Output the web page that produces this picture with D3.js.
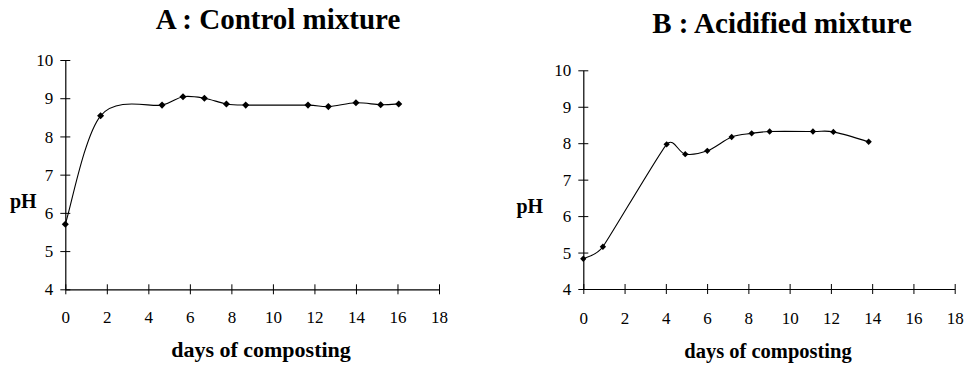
<!DOCTYPE html>
<html>
<head>
<meta charset="utf-8">
<script src="https://cdn.jsdelivr.net/npm/d3@7"></script>
<style>
  html, body { margin: 0; padding: 0; background: #fff; }
  svg { display: block; }
</style>
</head>
<body>
<svg id="chart" width="965" height="367"></svg>
<script>
// ---- data ----
const xTicks = [0, 2, 4, 6, 8, 10, 12, 14, 16, 18];
const yTicks = [4, 5, 6, 7, 8, 9, 10];

const titleA = "A : Control mixture";
const daysA = [0, 1.7, 4.66, 5.67, 6.7, 7.76, 8.69, 11.69, 12.67, 14.0, 15.19, 16.06];
const phA   = [5.7, 8.54, 8.82, 9.04, 9.0, 8.85, 8.82, 8.82, 8.78, 8.88, 8.83, 8.85];

const titleB = "B : Acidified mixture";
const daysB = [0, 0.95, 4.04, 4.94, 6.01, 7.19, 8.16, 9.03, 11.13, 12.12, 13.83];
const phB   = [4.83, 5.16, 7.97, 7.70, 7.79, 8.17, 8.27, 8.32, 8.32, 8.31, 8.04];

const xLabel = "days of composting";
const yLabel = "pH";

const FONT = "Liberation Serif";

// spreadsheet-style smoothed line (Bezier, tangent (P[i+1]-P[i-1])/6, clamped for uneven spacing)
function SmoothCurve(context) { this._context = context; }
SmoothCurve.prototype = {
  areaStart() {}, areaEnd() {},
  lineStart() { this._pts = []; },
  point(x, y) { this._pts.push([+x, +y]); },
  lineEnd() {
    const p = this._pts, n = p.length, c = this._context;
    if (!n) return;
    c.moveTo(p[0][0], p[0][1]);
    if (n === 1) return;
    const tan = i => {
      const a = p[Math.max(0, i - 1)], b = p[i], d = p[Math.min(n - 1, i + 1)];
      const d01 = Math.hypot(b[0] - a[0], b[1] - a[1]);
      const d12 = Math.hypot(d[0] - b[0], d[1] - b[1]);
      const d02 = Math.hypot(d[0] - a[0], d[1] - a[1]);
      let f = 1 / 6;
      const m = Math.min(d01 > 0 ? d01 : Infinity, d12 > 0 ? d12 : Infinity);
      if (d02 > 0 && isFinite(m)) f = Math.min(f, m / (2 * d02));
      return [(d[0] - a[0]) * f, (d[1] - a[1]) * f];
    };
    const t = p.map((_, i) => tan(i));
    for (let i = 0; i < n - 1; i++) {
      c.bezierCurveTo(p[i][0] + t[i][0], p[i][1] + t[i][1],
                      p[i + 1][0] - t[i + 1][0], p[i + 1][1] - t[i + 1][1],
                      p[i + 1][0], p[i + 1][1]);
    }
  }
};
const curveSmooth = ctx => new SmoothCurve(ctx);

const svg = d3.select("#chart");
svg.append("rect").attr("width", 965).attr("height", 367).attr("fill", "#fff");

function panel(cfg) {
  const x = d3.scaleLinear().domain([0, 18]).range([cfg.x0, cfg.x1]);
  const y = d3.scaleLinear().domain([4, 10]).range([cfg.y0, cfg.y1]);
  const g = svg.append("g");

  // title
  g.append("text").attr("x", cfg.titleX).attr("y", cfg.titleY)
    .attr("text-anchor", "middle")
    .style("font-family", FONT).style("font-weight", "bold")
    .style("font-size", cfg.titleSize + "px").text(cfg.title);

  // x axis
  const gx = g.append("g").attr("transform", `translate(0,${cfg.y0})`)
    .call(d3.axisBottom(x).tickValues(xTicks).tickSizeOuter(0).tickSizeInner(5).tickPadding(0).tickFormat(d3.format("d")));
  gx.attr("font-family", null);
  gx.select(".domain").attr("stroke", "#000").attr("stroke-width", 1.2);
  gx.selectAll(".tick line").attr("y1", -5).attr("y2", 5).attr("stroke", "#000");
  gx.selectAll(".tick text")
    .style("font-family", FONT).style("font-size", cfg.tickSize + "px")
    .attr("y", cfg.xLabelDy).attr("dy", 0).attr("fill", "#000");

  // y axis
  const gy = g.append("g").attr("transform", `translate(${cfg.x0},0)`)
    .call(d3.axisLeft(y).tickValues(yTicks).tickSizeOuter(0).tickSizeInner(5).tickPadding(0).tickFormat(d3.format("d")));
  gy.attr("font-family", null);
  gy.select(".domain").attr("stroke", "#000").attr("stroke-width", 1.2);
  gy.selectAll(".tick line").attr("x1", -5).attr("x2", 5).attr("stroke", "#000");
  gy.selectAll(".tick text")
    .style("font-family", FONT).style("font-size", cfg.tickSize + "px")
    .attr("x", -12).attr("dy", "0.33em").attr("fill", "#000");

  // axis titles
  g.append("text").attr("x", cfg.yLabX).attr("y", cfg.yLabY)
    .style("font-family", FONT).style("font-weight", "bold").style("font-size", "20px")
    .text(yLabel);
  g.append("text").attr("x", cfg.xLabX).attr("y", cfg.xLabY).attr("text-anchor", "middle")
    .style("font-family", FONT).style("font-weight", "bold").style("font-size", cfg.xLabSize + "px")
    .text(xLabel);

  const data = cfg.days.map((d, i) => ({ d, v: cfg.ph[i] }));
  const line = d3.line().x(p => x(p.d)).y(p => y(p.v)).curve(curveSmooth);
  g.append("path").datum(data).attr("d", line)
    .attr("fill", "none").attr("stroke", "#000").attr("stroke-width", 1.1);

  const sym = d3.symbol().type(d3.symbolSquare).size(cfg.markSize);
  g.selectAll(".mk").data(data).join("path")
    .attr("d", sym)
    .attr("transform", p => `translate(${x(p.d)},${y(p.v)}) rotate(45)`)
    .attr("fill", "#000");
}

panel({
  title: titleA, days: daysA, ph: phA,
  x0: 65.3, x1: 439, y0: 289.3, y1: 60,
  titleX: 278, titleY: 29, titleSize: 29,
  tickSize: 17, xLabelDy: 34,
  yLabX: 10, yLabY: 208,
  xLabX: 261, xLabY: 357, xLabSize: 22,
  markSize: 25
});

panel({
  title: titleB, days: daysB, ph: phB,
  x0: 583.3, x1: 954.7, y0: 289, y1: 70.3,
  titleX: 782, titleY: 33, titleSize: 29,
  tickSize: 17, xLabelDy: 35,
  yLabX: 516.5, yLabY: 212.5,
  xLabX: 768, xLabY: 358, xLabSize: 20.5,
  markSize: 20
});
</script>
</body>
</html>
